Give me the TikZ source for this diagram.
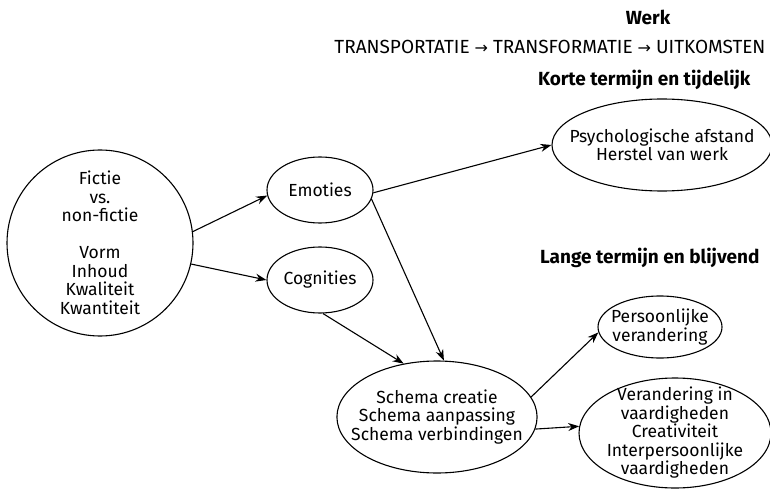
\documentclass[tikz,border=0pt]{standalone}
\usepackage{fontspec}
\setmainfont{Fira Sans}
\newfontfamily\arrowfont{DejaVu Sans}
\usetikzlibrary{shapes.geometric,arrows.meta}
\begin{document}
\begin{tikzpicture}[x=1pt,y=-1pt,
  every node/.style={font=\fontsize{17.5}{18.5}\selectfont, align=center},
  blob/.style={draw, ellipse, line width=1.1pt, inner sep=-15pt},
  link/.style={line width=1.1pt, -{Stealth[length=11pt,width=8pt]}},
  head/.style={font=\fontsize{19}{20}\selectfont\bfseries}]
\useasboundingbox (0,0) rectangle (770,489);

% headings
\node[head] (werk) at (648,17) {Werk};
\node[anchor=east, font=\fontsize{19}{20}\selectfont] (flow) at (769,47) {TRANSPORTATIE {\arrowfont\fontsize{16}{18}\selectfont →} TRANSFORMATIE {\arrowfont\fontsize{16}{18}\selectfont →} UITKOMSTEN};
\node[head, anchor=east] (kort) at (754,80) {Korte termijn en tijdelijk};
\node[head, anchor=east] (lang) at (763,258) {Lange termijn en blijvend};

% nodes
\node[blob, minimum width=186pt, minimum height=186pt] (bron) at (100,243)
  {Fictie\\vs.\\non-fictie\\[18.5pt]Vorm\\Inhoud\\Kwaliteit\\Kwantiteit};
\node[blob, minimum width=106pt, minimum height=66pt] (emo) at (320,190) {Emoties};
\node[blob, minimum width=106pt, minimum height=66pt] (cog) at (320,280) {Cognities};
\node[blob, minimum width=220pt, minimum height=92pt] (psy) at (662,145) {Psychologische afstand\\Herstel van werk};
\node[blob, minimum width=192pt, minimum height=112pt] (schema) at (437,417) {Schema creatie\\Schema aanpassing\\Schema verbindingen};
\node[blob, minimum width=124pt, minimum height=62pt] (pers) at (660,327) {Persoonlijke\\verandering};
\node[blob, minimum width=192pt, minimum height=110pt] (vaard) at (675,433) {Verandering in\\vaardigheden\\Creativiteit\\Interpersoonlijke\\vaardigheden};

% connectors
\draw[link] (bron.7) -- (emo.186);
\draw[link] (bron.-13) -- (cog.180);
\draw[link] (emo.-3) -- (psy.180);
\draw[link] (emo.-10) -- (schema.83);
\draw[link] (cog.-85) -- (schema.122);
\draw[link] (schema.12) -- (pers.185);
\draw[link] (schema.-7) -- (vaard.176);
\end{tikzpicture}
\end{document}
